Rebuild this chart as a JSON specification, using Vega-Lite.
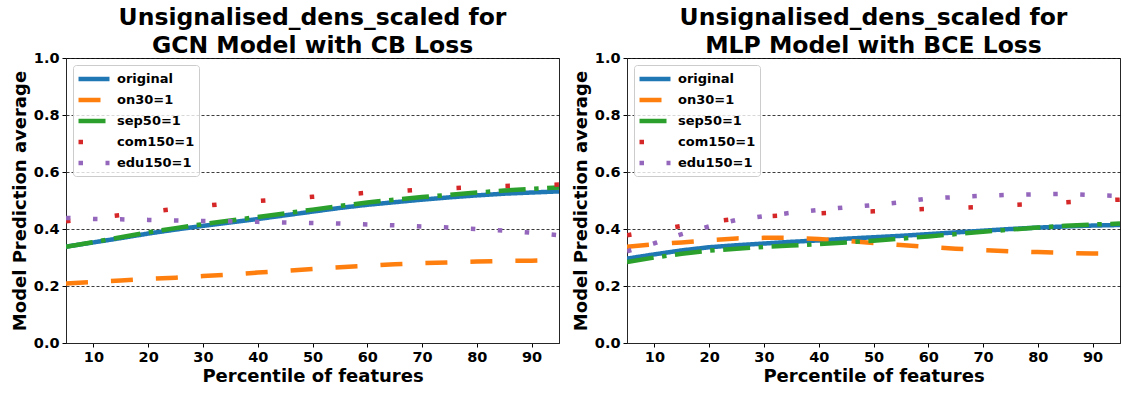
{
  "$schema": "https://vega.github.io/schema/vega-lite/v6.json",
  "padding": {"left": 10, "top": 5, "right": 2, "bottom": 4},
  "spacing": 11,
  "config": {
    "font": "DejaVu Sans",
    "view": {"stroke": "#262626", "strokeWidth": 1},
    "axis": {
      "labelFontSize": 14.5, "labelFontWeight": "bold", "labelColor": "#000",
      "titleFontSize": 18, "titleFontWeight": "bold", "titleColor": "#000",
      "tickColor": "#000", "tickSize": 4, "domainColor": "#262626",
      "labelPadding": 3, "titlePadding": 4,
      "gridColor": "#000", "gridDash": [3, 2], "gridOpacity": 0.85, "gridWidth": 0.9
    },
    "legend": {
      "orient": "top-left", "offset": 7, "padding": 4,
      "fillColor": "rgba(255,255,255,0.8)", "strokeColor": "#cccccc", "cornerRadius": 3,
      "symbolType": "M-2,0H2", "symbolStrokeWidth": 4.5, "symbolSize": 240, "symbolOffset": 7,
      "labelFontSize": 13, "labelFontWeight": "bold", "labelColor": "#000",
      "labelOffset": 13, "rowPadding": 2
    },
    "title": {"fontSize": 23.5, "fontWeight": "bold", "color": "#000", "anchor": "middle", "lineHeight": 28, "offset": -7}
  },
  "data": {"values": [
    {"model":"GCN","series":"original","percentile":5,"value":0.338},{"model":"GCN","series":"original","percentile":10,"value":0.353},{"model":"GCN","series":"original","percentile":15,"value":0.368},{"model":"GCN","series":"original","percentile":20,"value":0.384},{"model":"GCN","series":"original","percentile":25,"value":0.398},{"model":"GCN","series":"original","percentile":30,"value":0.411},{"model":"GCN","series":"original","percentile":35,"value":0.423},{"model":"GCN","series":"original","percentile":40,"value":0.435},{"model":"GCN","series":"original","percentile":45,"value":0.448},{"model":"GCN","series":"original","percentile":50,"value":0.461},{"model":"GCN","series":"original","percentile":55,"value":0.474},{"model":"GCN","series":"original","percentile":60,"value":0.485},{"model":"GCN","series":"original","percentile":65,"value":0.494},{"model":"GCN","series":"original","percentile":70,"value":0.503},{"model":"GCN","series":"original","percentile":75,"value":0.511},{"model":"GCN","series":"original","percentile":80,"value":0.518},{"model":"GCN","series":"original","percentile":85,"value":0.524},{"model":"GCN","series":"original","percentile":90,"value":0.528},{"model":"GCN","series":"original","percentile":95,"value":0.532},
    {"model":"GCN","series":"on30=1","percentile":5,"value":0.209},{"model":"GCN","series":"on30=1","percentile":10,"value":0.214},{"model":"GCN","series":"on30=1","percentile":15,"value":0.219},{"model":"GCN","series":"on30=1","percentile":20,"value":0.225},{"model":"GCN","series":"on30=1","percentile":25,"value":0.229},{"model":"GCN","series":"on30=1","percentile":30,"value":0.235},{"model":"GCN","series":"on30=1","percentile":35,"value":0.240},{"model":"GCN","series":"on30=1","percentile":40,"value":0.247},{"model":"GCN","series":"on30=1","percentile":45,"value":0.253},{"model":"GCN","series":"on30=1","percentile":50,"value":0.260},{"model":"GCN","series":"on30=1","percentile":55,"value":0.266},{"model":"GCN","series":"on30=1","percentile":60,"value":0.271},{"model":"GCN","series":"on30=1","percentile":65,"value":0.276},{"model":"GCN","series":"on30=1","percentile":70,"value":0.280},{"model":"GCN","series":"on30=1","percentile":75,"value":0.283},{"model":"GCN","series":"on30=1","percentile":80,"value":0.286},{"model":"GCN","series":"on30=1","percentile":85,"value":0.288},{"model":"GCN","series":"on30=1","percentile":90,"value":0.289},{"model":"GCN","series":"on30=1","percentile":95,"value":0.291},
    {"model":"GCN","series":"sep50=1","percentile":5,"value":0.338},{"model":"GCN","series":"sep50=1","percentile":10,"value":0.354},{"model":"GCN","series":"sep50=1","percentile":15,"value":0.371},{"model":"GCN","series":"sep50=1","percentile":20,"value":0.388},{"model":"GCN","series":"sep50=1","percentile":25,"value":0.403},{"model":"GCN","series":"sep50=1","percentile":30,"value":0.417},{"model":"GCN","series":"sep50=1","percentile":35,"value":0.430},{"model":"GCN","series":"sep50=1","percentile":40,"value":0.442},{"model":"GCN","series":"sep50=1","percentile":45,"value":0.455},{"model":"GCN","series":"sep50=1","percentile":50,"value":0.468},{"model":"GCN","series":"sep50=1","percentile":55,"value":0.481},{"model":"GCN","series":"sep50=1","percentile":60,"value":0.493},{"model":"GCN","series":"sep50=1","percentile":65,"value":0.503},{"model":"GCN","series":"sep50=1","percentile":70,"value":0.512},{"model":"GCN","series":"sep50=1","percentile":75,"value":0.520},{"model":"GCN","series":"sep50=1","percentile":80,"value":0.528},{"model":"GCN","series":"sep50=1","percentile":85,"value":0.535},{"model":"GCN","series":"sep50=1","percentile":90,"value":0.541},{"model":"GCN","series":"sep50=1","percentile":95,"value":0.546},
    {"model":"GCN","series":"com150=1","percentile":5,"value":0.427},{"model":"GCN","series":"com150=1","percentile":10,"value":0.438},{"model":"GCN","series":"com150=1","percentile":15,"value":0.449},{"model":"GCN","series":"com150=1","percentile":20,"value":0.460},{"model":"GCN","series":"com150=1","percentile":25,"value":0.471},{"model":"GCN","series":"com150=1","percentile":30,"value":0.481},{"model":"GCN","series":"com150=1","percentile":35,"value":0.490},{"model":"GCN","series":"com150=1","percentile":40,"value":0.498},{"model":"GCN","series":"com150=1","percentile":45,"value":0.505},{"model":"GCN","series":"com150=1","percentile":50,"value":0.513},{"model":"GCN","series":"com150=1","percentile":55,"value":0.520},{"model":"GCN","series":"com150=1","percentile":60,"value":0.527},{"model":"GCN","series":"com150=1","percentile":65,"value":0.532},{"model":"GCN","series":"com150=1","percentile":70,"value":0.538},{"model":"GCN","series":"com150=1","percentile":75,"value":0.543},{"model":"GCN","series":"com150=1","percentile":80,"value":0.547},{"model":"GCN","series":"com150=1","percentile":85,"value":0.551},{"model":"GCN","series":"com150=1","percentile":90,"value":0.554},{"model":"GCN","series":"com150=1","percentile":95,"value":0.556},
    {"model":"GCN","series":"edu150=1","percentile":5,"value":0.439},{"model":"GCN","series":"edu150=1","percentile":10,"value":0.435},{"model":"GCN","series":"edu150=1","percentile":15,"value":0.434},{"model":"GCN","series":"edu150=1","percentile":20,"value":0.432},{"model":"GCN","series":"edu150=1","percentile":25,"value":0.430},{"model":"GCN","series":"edu150=1","percentile":30,"value":0.428},{"model":"GCN","series":"edu150=1","percentile":35,"value":0.427},{"model":"GCN","series":"edu150=1","percentile":40,"value":0.425},{"model":"GCN","series":"edu150=1","percentile":45,"value":0.423},{"model":"GCN","series":"edu150=1","percentile":50,"value":0.421},{"model":"GCN","series":"edu150=1","percentile":55,"value":0.419},{"model":"GCN","series":"edu150=1","percentile":60,"value":0.416},{"model":"GCN","series":"edu150=1","percentile":65,"value":0.413},{"model":"GCN","series":"edu150=1","percentile":70,"value":0.409},{"model":"GCN","series":"edu150=1","percentile":75,"value":0.405},{"model":"GCN","series":"edu150=1","percentile":80,"value":0.400},{"model":"GCN","series":"edu150=1","percentile":85,"value":0.394},{"model":"GCN","series":"edu150=1","percentile":90,"value":0.387},{"model":"GCN","series":"edu150=1","percentile":95,"value":0.378},
    {"model":"MLP","series":"original","percentile":5,"value":0.296},{"model":"MLP","series":"original","percentile":10,"value":0.311},{"model":"MLP","series":"original","percentile":15,"value":0.325},{"model":"MLP","series":"original","percentile":20,"value":0.336},{"model":"MLP","series":"original","percentile":25,"value":0.343},{"model":"MLP","series":"original","percentile":30,"value":0.349},{"model":"MLP","series":"original","percentile":35,"value":0.355},{"model":"MLP","series":"original","percentile":40,"value":0.360},{"model":"MLP","series":"original","percentile":45,"value":0.366},{"model":"MLP","series":"original","percentile":50,"value":0.371},{"model":"MLP","series":"original","percentile":55,"value":0.376},{"model":"MLP","series":"original","percentile":60,"value":0.382},{"model":"MLP","series":"original","percentile":65,"value":0.388},{"model":"MLP","series":"original","percentile":70,"value":0.394},{"model":"MLP","series":"original","percentile":75,"value":0.400},{"model":"MLP","series":"original","percentile":80,"value":0.405},{"model":"MLP","series":"original","percentile":85,"value":0.409},{"model":"MLP","series":"original","percentile":90,"value":0.412},{"model":"MLP","series":"original","percentile":95,"value":0.414},
    {"model":"MLP","series":"on30=1","percentile":5,"value":0.338},{"model":"MLP","series":"on30=1","percentile":10,"value":0.346},{"model":"MLP","series":"on30=1","percentile":15,"value":0.353},{"model":"MLP","series":"on30=1","percentile":20,"value":0.361},{"model":"MLP","series":"on30=1","percentile":25,"value":0.367},{"model":"MLP","series":"on30=1","percentile":30,"value":0.369},{"model":"MLP","series":"on30=1","percentile":35,"value":0.369},{"model":"MLP","series":"on30=1","percentile":40,"value":0.365},{"model":"MLP","series":"on30=1","percentile":45,"value":0.358},{"model":"MLP","series":"on30=1","percentile":50,"value":0.351},{"model":"MLP","series":"on30=1","percentile":55,"value":0.344},{"model":"MLP","series":"on30=1","percentile":60,"value":0.337},{"model":"MLP","series":"on30=1","percentile":65,"value":0.331},{"model":"MLP","series":"on30=1","percentile":70,"value":0.326},{"model":"MLP","series":"on30=1","percentile":75,"value":0.322},{"model":"MLP","series":"on30=1","percentile":80,"value":0.319},{"model":"MLP","series":"on30=1","percentile":85,"value":0.316},{"model":"MLP","series":"on30=1","percentile":90,"value":0.314},{"model":"MLP","series":"on30=1","percentile":95,"value":0.313},
    {"model":"MLP","series":"sep50=1","percentile":5,"value":0.284},{"model":"MLP","series":"sep50=1","percentile":10,"value":0.300},{"model":"MLP","series":"sep50=1","percentile":15,"value":0.313},{"model":"MLP","series":"sep50=1","percentile":20,"value":0.324},{"model":"MLP","series":"sep50=1","percentile":25,"value":0.331},{"model":"MLP","series":"sep50=1","percentile":30,"value":0.337},{"model":"MLP","series":"sep50=1","percentile":35,"value":0.342},{"model":"MLP","series":"sep50=1","percentile":40,"value":0.347},{"model":"MLP","series":"sep50=1","percentile":45,"value":0.353},{"model":"MLP","series":"sep50=1","percentile":50,"value":0.359},{"model":"MLP","series":"sep50=1","percentile":55,"value":0.366},{"model":"MLP","series":"sep50=1","percentile":60,"value":0.374},{"model":"MLP","series":"sep50=1","percentile":65,"value":0.382},{"model":"MLP","series":"sep50=1","percentile":70,"value":0.390},{"model":"MLP","series":"sep50=1","percentile":75,"value":0.398},{"model":"MLP","series":"sep50=1","percentile":80,"value":0.405},{"model":"MLP","series":"sep50=1","percentile":85,"value":0.411},{"model":"MLP","series":"sep50=1","percentile":90,"value":0.416},{"model":"MLP","series":"sep50=1","percentile":95,"value":0.419},
    {"model":"MLP","series":"com150=1","percentile":5,"value":0.378},{"model":"MLP","series":"com150=1","percentile":10,"value":0.395},{"model":"MLP","series":"com150=1","percentile":15,"value":0.411},{"model":"MLP","series":"com150=1","percentile":20,"value":0.425},{"model":"MLP","series":"com150=1","percentile":25,"value":0.436},{"model":"MLP","series":"com150=1","percentile":30,"value":0.444},{"model":"MLP","series":"com150=1","percentile":35,"value":0.449},{"model":"MLP","series":"com150=1","percentile":40,"value":0.455},{"model":"MLP","series":"com150=1","percentile":45,"value":0.459},{"model":"MLP","series":"com150=1","percentile":50,"value":0.462},{"model":"MLP","series":"com150=1","percentile":55,"value":0.467},{"model":"MLP","series":"com150=1","percentile":60,"value":0.471},{"model":"MLP","series":"com150=1","percentile":65,"value":0.474},{"model":"MLP","series":"com150=1","percentile":70,"value":0.478},{"model":"MLP","series":"com150=1","percentile":75,"value":0.484},{"model":"MLP","series":"com150=1","percentile":80,"value":0.488},{"model":"MLP","series":"com150=1","percentile":85,"value":0.494},{"model":"MLP","series":"com150=1","percentile":90,"value":0.499},{"model":"MLP","series":"com150=1","percentile":95,"value":0.503},
    {"model":"MLP","series":"edu150=1","percentile":5,"value":0.322},{"model":"MLP","series":"edu150=1","percentile":10,"value":0.350},{"model":"MLP","series":"edu150=1","percentile":15,"value":0.382},{"model":"MLP","series":"edu150=1","percentile":20,"value":0.409},{"model":"MLP","series":"edu150=1","percentile":25,"value":0.432},{"model":"MLP","series":"edu150=1","percentile":30,"value":0.445},{"model":"MLP","series":"edu150=1","percentile":35,"value":0.457},{"model":"MLP","series":"edu150=1","percentile":40,"value":0.467},{"model":"MLP","series":"edu150=1","percentile":45,"value":0.476},{"model":"MLP","series":"edu150=1","percentile":50,"value":0.484},{"model":"MLP","series":"edu150=1","percentile":55,"value":0.494},{"model":"MLP","series":"edu150=1","percentile":60,"value":0.507},{"model":"MLP","series":"edu150=1","percentile":65,"value":0.512},{"model":"MLP","series":"edu150=1","percentile":70,"value":0.517},{"model":"MLP","series":"edu150=1","percentile":75,"value":0.520},{"model":"MLP","series":"edu150=1","percentile":80,"value":0.522},{"model":"MLP","series":"edu150=1","percentile":85,"value":0.523},{"model":"MLP","series":"edu150=1","percentile":90,"value":0.519},{"model":"MLP","series":"edu150=1","percentile":95,"value":0.516}
  ]},
  "hconcat": [
    {
      "title": {"text": ["Unsignalised_dens_scaled for", "GCN Model with CB Loss"]},
      "width": 493, "height": 285,
      "transform": [{"filter": "datum.model === 'GCN'"}],
      "mark": {"type": "line", "strokeWidth": 4.5, "clip": true},
      "encoding": {
        "x": {"field": "percentile", "type": "quantitative", "scale": {"domain": [5, 95], "nice": false, "zero": false},
              "axis": {"values": [10, 20, 30, 40, 50, 60, 70, 80, 90], "title": "Percentile of features", "grid": false}},
        "y": {"field": "value", "type": "quantitative", "scale": {"domain": [0, 1]},
              "axis": {"values": [0, 0.2, 0.4, 0.6, 0.8, 1.0], "format": ".1f", "title": "Model Prediction average", "grid": true}},
        "color": {"field": "series", "type": "nominal",
                  "scale": {"domain": ["original", "on30=1", "sep50=1", "com150=1", "edu150=1"], "range": ["#1f77b4", "#ff7f0e", "#2ca02c", "#d62728", "#9467bd"]},
                  "legend": {"title": null}},
        "strokeDash": {"field": "series", "type": "nominal",
                  "scale": {"domain": ["original", "on30=1", "sep50=1", "com150=1", "edu150=1"], "range": [[1, 0], [22, 23], [27, 8.5, 4.5, 8.5], [4.5, 44.5], [4.5, 22.5]]},
                  "legend": {"title": null}}
      }
    },
    {
      "title": {"text": ["Unsignalised_dens_scaled for", "MLP Model with BCE Loss"]},
      "width": 493, "height": 285,
      "transform": [{"filter": "datum.model === 'MLP'"}],
      "mark": {"type": "line", "strokeWidth": 4.5, "clip": true},
      "encoding": {
        "x": {"field": "percentile", "type": "quantitative", "scale": {"domain": [5, 95], "nice": false, "zero": false},
              "axis": {"values": [10, 20, 30, 40, 50, 60, 70, 80, 90], "title": "Percentile of features", "grid": false}},
        "y": {"field": "value", "type": "quantitative", "scale": {"domain": [0, 1]},
              "axis": {"values": [0, 0.2, 0.4, 0.6, 0.8, 1.0], "format": ".1f", "title": "Model Prediction average", "grid": true}},
        "color": {"field": "series", "type": "nominal",
                  "scale": {"domain": ["original", "on30=1", "sep50=1", "com150=1", "edu150=1"], "range": ["#1f77b4", "#ff7f0e", "#2ca02c", "#d62728", "#9467bd"]},
                  "legend": {"title": null}},
        "strokeDash": {"field": "series", "type": "nominal",
                  "scale": {"domain": ["original", "on30=1", "sep50=1", "com150=1", "edu150=1"], "range": [[1, 0], [22, 23], [27, 8.5, 4.5, 8.5], [4.5, 44.5], [4.5, 22.5]]},
                  "legend": {"title": null}}
      }
    }
  ],
  "resolve": {"legend": {"color": "independent", "strokeDash": "independent"}}
}
